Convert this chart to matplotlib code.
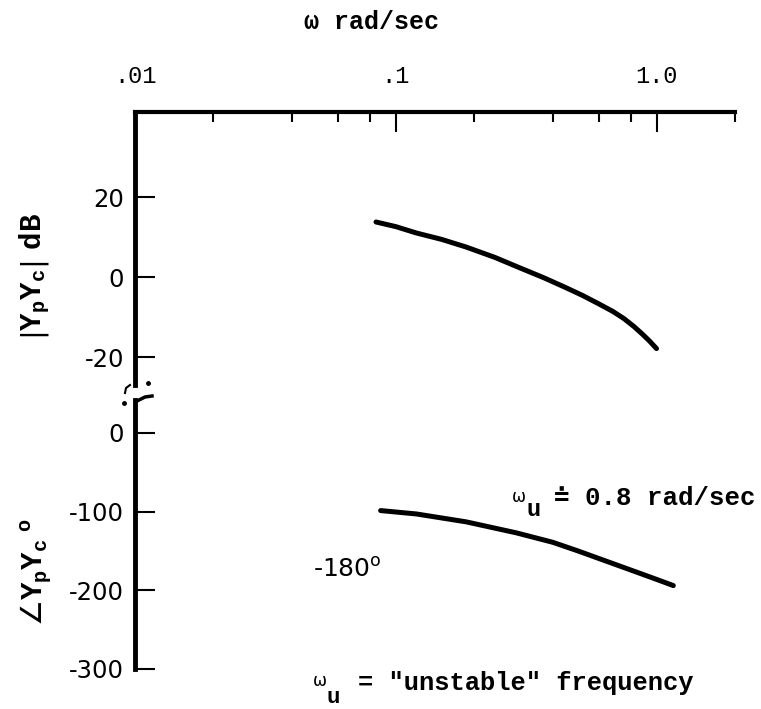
import matplotlib
matplotlib.use("Agg")
import matplotlib.pyplot as plt
from matplotlib.lines import Line2D
from matplotlib.transforms import blended_transform_factory

plt.rcParams["mathtext.fontset"] = "custom"
plt.rcParams["mathtext.rm"] = "DejaVu Sans"
plt.rcParams["mathtext.it"] = "DejaVu Sans:italic"
plt.rcParams["mathtext.bf"] = "DejaVu Sans:bold"
plt.rcParams["mathtext.sf"] = "DejaVu Sans"
plt.rcParams["mathtext.tt"] = "Liberation Mono:bold"

# magnitude curve |YpYc| (dB) vs omega (rad/sec)
freq_mag = [0.084, 0.10, 0.12, 0.15, 0.186, 0.24, 0.30, 0.37, 0.447,
            0.52, 0.60, 0.68, 0.75, 0.82, 0.88, 0.94, 1.0]
mag_db = [13.75, 12.6, 11.0, 9.4, 7.5, 4.9, 2.25, -0.2, -2.6,
          -4.6, -6.7, -8.6, -10.4, -12.4, -14.2, -16.0, -17.9]

# phase curve (deg) vs omega
freq_ph = [0.0875, 0.12, 0.186, 0.29, 0.40, 0.50, 0.60, 0.70, 0.85, 1.0, 1.16]
phase_deg = [-98.7, -103.0, -113.0, -127.0, -139.0, -150.0, -159.5,
             -167.5, -177.6, -186.1, -194.0]

x_major = [0.01, 0.1, 1.0]
x_major_labels = [".01", ".1", "1.0"]
x_minor = [0.02, 0.04, 0.06, 0.08, 0.2, 0.4, 0.6, 0.8, 2.0]
mag_ticks = [-20, 0, 20]
phase_ticks = [-300, -200, -100, 0]

W, H = 761, 709
fig = plt.figure(figsize=(W / 100, H / 100), dpi=100)


def fx(x):
    return x / W


def fy(y):
    return 1 - y / H


mono = ["Liberation Mono", "DejaVu Sans Mono"]

# upper (magnitude) axes
ax1 = fig.add_axes([fx(135), fy(385), 600 / W, (385 - 112) / H])
ax1.set_xscale("log")
ax1.set_xlim(0.01, 2.0)
ax1.set_ylim(-27, 41.25)
ax1.plot(freq_mag, mag_db, color="black", lw=3.6, solid_capstyle="round")

# lower (phase) axes
ax2 = fig.add_axes([fx(135), fy(669), 600 / W, (669 - 400) / H], sharex=ax1)
ax2.set_ylim(-300, 41.8)
ax2.plot(freq_ph, phase_deg, color="black", lw=3.6, solid_capstyle="round")

for ax in (ax1, ax2):
    ax.set_facecolor("none")
    for s in ("right", "bottom", "top"):
        ax.spines[s].set_visible(False)
    ax.spines["left"].set_linewidth(3.5)
    ax.spines["left"].set_capstyle("projecting")
    ax.tick_params(axis="y", direction="in", length=14.4, width=1.5,
                   pad=8, labelsize=17.5)

ax1.spines["top"].set_visible(True)
ax1.spines["top"].set_linewidth(3.0)
ax1.spines["top"].set_capstyle("projecting")

ax1.set_yticks(mag_ticks)
ax1.set_yticklabels([str(t) for t in mag_ticks])
ax2.set_yticks(phase_ticks)
ax2.set_yticklabels([str(t) for t in phase_ticks])

ax1.xaxis.set_ticks_position("top")
ax1.set_xticks(x_major)
ax1.set_xticklabels(x_major_labels)
ax1.set_xticks(x_minor, minor=True)
ax1.xaxis.set_minor_formatter(plt.NullFormatter())
ax1.tick_params(axis="x", which="major", direction="in", length=14.4,
                width=1.5, pad=17, top=True, bottom=False,
                labeltop=True, labelbottom=False, labelsize=17,
                labelfontfamily="Liberation Mono")
ax1.tick_params(axis="x", which="minor", direction="in", length=7,
                width=1.5, top=True, bottom=False)
ax2.tick_params(axis="x", which="both", bottom=False, top=False,
                labelbottom=False, labeltop=False)

# break in the top axis
tr = blended_transform_factory(ax1.transData, ax1.transAxes)
ax1.plot([0.345, 0.36], [0.985, 1.015], color="white", lw=3,
         transform=tr, clip_on=False)

# break marks on the left axis
fig.add_artist(Line2D([fx(137), fx(145), fx(152)], [fy(401), fy(397), fy(396)],
                      color="black", lw=2.5))
fig.add_artist(Line2D([fx(130), fx(126), fx(125)], [fy(385), fy(388), fy(393)],
                      color="black", lw=1.5))
fig.add_artist(Line2D([fx(148)], [fy(383)], marker="o", ms=2.5, color="black"))
fig.add_artist(Line2D([fx(124)], [fy(403)], marker="o", ms=2.5, color="black"))

# titles and labels
fig.text(fx(372), fy(22), "\u03c9 rad/sec", family=mono, fontsize=18,
         weight="bold", ha="center", va="center")
fig.text(fx(35), fy(276), r"$\left|\mathtt{Y_pY_c}\right|\ \mathtt{dB}$",
         fontsize=21, rotation=90, ha="center", va="center")
fig.text(fx(37), fy(572), r"$\angle\mathtt{Y_pY_c}^{\ \mathtt{o}}$",
         fontsize=21, rotation=90, ha="center", va="center")

# annotations
fig.text(fx(313), fy(577), r"-180$^{\mathrm{o}}$", fontsize=18,
         ha="left", va="baseline")
fig.text(fx(512), fy(502), "\u03c9", fontsize=12, ha="left", va="baseline")
fig.text(fx(526), fy(516), "u", family=mono, fontsize=17, weight="bold",
         ha="left", va="baseline")
fig.text(fx(755), fy(505), "\u2250 0.8 rad/sec", family=mono, fontsize=18.5,
         weight="bold", ha="right", va="baseline")
fig.text(fx(313), fy(686), "\u03c9", fontsize=12, ha="left", va="baseline")
fig.text(fx(326), fy(703), "u", family=mono, fontsize=16, weight="bold",
         ha="left", va="baseline")
fig.text(fx(358), fy(690), '= "unstable" frequency', family=mono,
         fontsize=18.4, weight="bold", ha="left", va="baseline")

fig.savefig("out.png", dpi=100)
